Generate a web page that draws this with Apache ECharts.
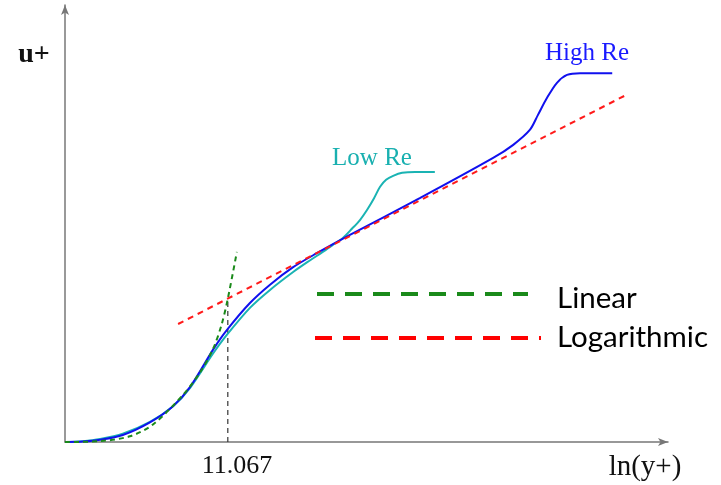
<!DOCTYPE html>
<html>
<head>
<meta charset="utf-8">
<script src="https://cdn.jsdelivr.net/npm/echarts@6/dist/echarts.min.js"></script>
<style>html,body{margin:0;padding:0;background:#fff}#c{width:721px;height:485px}</style>
</head>
<body>
<div id="c"></div>
<script>
// x: ln(y+) in arbitrary chart units, y: u+ in arbitrary chart units
const highRe = [[0,0],[0.35,0.01],[0.70,0.05],[1.15,0.16],[1.69,0.45],[2.15,0.82],[2.49,1.26],[2.95,2.12],[3.22,2.56],[3.68,3.18],[4.08,3.60],[4.54,4.00],[5.01,4.32],[5.67,4.74],[7.06,5.58],[8.52,6.50],[8.92,6.80],[9.25,7.14],[9.41,7.48],[9.59,7.87],[9.79,8.22],[9.99,8.40],[10.25,8.44],[10.89,8.44]];
const lowRe = [[0,0],[0.35,0.02],[0.70,0.07],[1.15,0.19],[1.69,0.46],[2.15,0.82],[2.49,1.24],[2.95,2.03],[3.22,2.45],[3.68,3.07],[4.08,3.48],[4.54,3.89],[4.88,4.16],[5.13,4.35],[5.33,4.51],[5.53,4.67],[5.71,4.88],[5.87,5.08],[6.01,5.31],[6.15,5.58],[6.27,5.84],[6.39,6.00],[6.53,6.09],[6.71,6.16],[6.97,6.18],[7.36,6.18]];
const linearLaw = [[0,0],[0.70,0.02],[1.29,0.13],[1.75,0.40],[2.35,1.08],[2.69,1.60],[2.95,2.14],[3.12,2.70],[3.24,3.28],[3.42,4.35]];
const logLaw = [[2.25,2.70],[11.20,7.96]];
const crossX = 3.24;
const crossY = 3.25;
const crossLabel = '11.067';
const xMax = 12, yMax = 10;

const chart = echarts.init(document.getElementById('c'));
const axisStyle = {show:true, symbol:['none','arrow'], symbolSize:[6,10], lineStyle:{color:'#777', width:1.5}};
const curve = {type:'line', smooth:0.3, symbol:'none'};
chart.setOption({
  animation:false,
  backgroundColor:'#fff',
  grid:{left:65, right:53, top:5, bottom:43},
  xAxis:{type:'value', min:0, max:xMax, axisLine:axisStyle, axisTick:{show:false}, axisLabel:{show:false}, splitLine:{show:false}},
  yAxis:{type:'value', min:0, max:yMax, axisLine:axisStyle, axisTick:{show:false}, axisLabel:{show:false}, splitLine:{show:false}},
  series:[
    {type:'line', data:[[crossX,0],[crossX,crossY]], symbol:'none', lineStyle:{color:'#333', width:1.2, type:[5,4]}},
    Object.assign({}, curve, {data:lowRe, lineStyle:{color:'#1ab3b3', width:2}}),
    Object.assign({}, curve, {data:highRe, lineStyle:{color:'#1010ee', width:2}}),
    Object.assign({}, curve, {data:linearLaw, lineStyle:{color:'#1a8a1a', width:2, type:[5,4]}}),
    {type:'line', data:logLaw, symbol:'none', lineStyle:{color:'#ff1a1a', width:2, type:[6,5]}}
  ],
  graphic:[
    {type:'text', x:34, y:55, style:{text:'u+', font:'bold 28px "Liberation Serif"', fill:'#111', align:'center', verticalAlign:'middle'}},
    {type:'text', x:645, y:467, style:{text:'ln(y+)', font:'29px "Liberation Serif"', fill:'#111', align:'center', verticalAlign:'middle'}},
    {type:'text', x:237, y:466, style:{text:crossLabel, font:'26px "Liberation Serif"', fill:'#111', align:'center', verticalAlign:'middle'}},
    {type:'text', x:372, y:158, style:{text:'Low Re', font:'25px "Liberation Serif"', fill:'#19b0b0', align:'center', verticalAlign:'middle'}},
    {type:'text', x:587, y:53, style:{text:'High Re', font:'25px "Liberation Serif"', fill:'#1a1aff', align:'center', verticalAlign:'middle'}},
    {type:'line', shape:{x1:317,y1:294,x2:528,y2:294}, style:{stroke:'#1a8a1a', lineWidth:4, lineDash:[17,11]}},
    {type:'line', shape:{x1:315,y1:338,x2:541,y2:338}, style:{stroke:'#ff0000', lineWidth:4, lineDash:[17,11]}},
    {type:'text', x:557, y:298, style:{text:'Linear', font:'29.5px Lato', fill:'#000', verticalAlign:'middle'}},
    {type:'text', x:557, y:337, style:{text:'Logarithmic', font:'29.5px Lato', fill:'#000', verticalAlign:'middle'}}
  ]
});
</script>
</body>
</html>
